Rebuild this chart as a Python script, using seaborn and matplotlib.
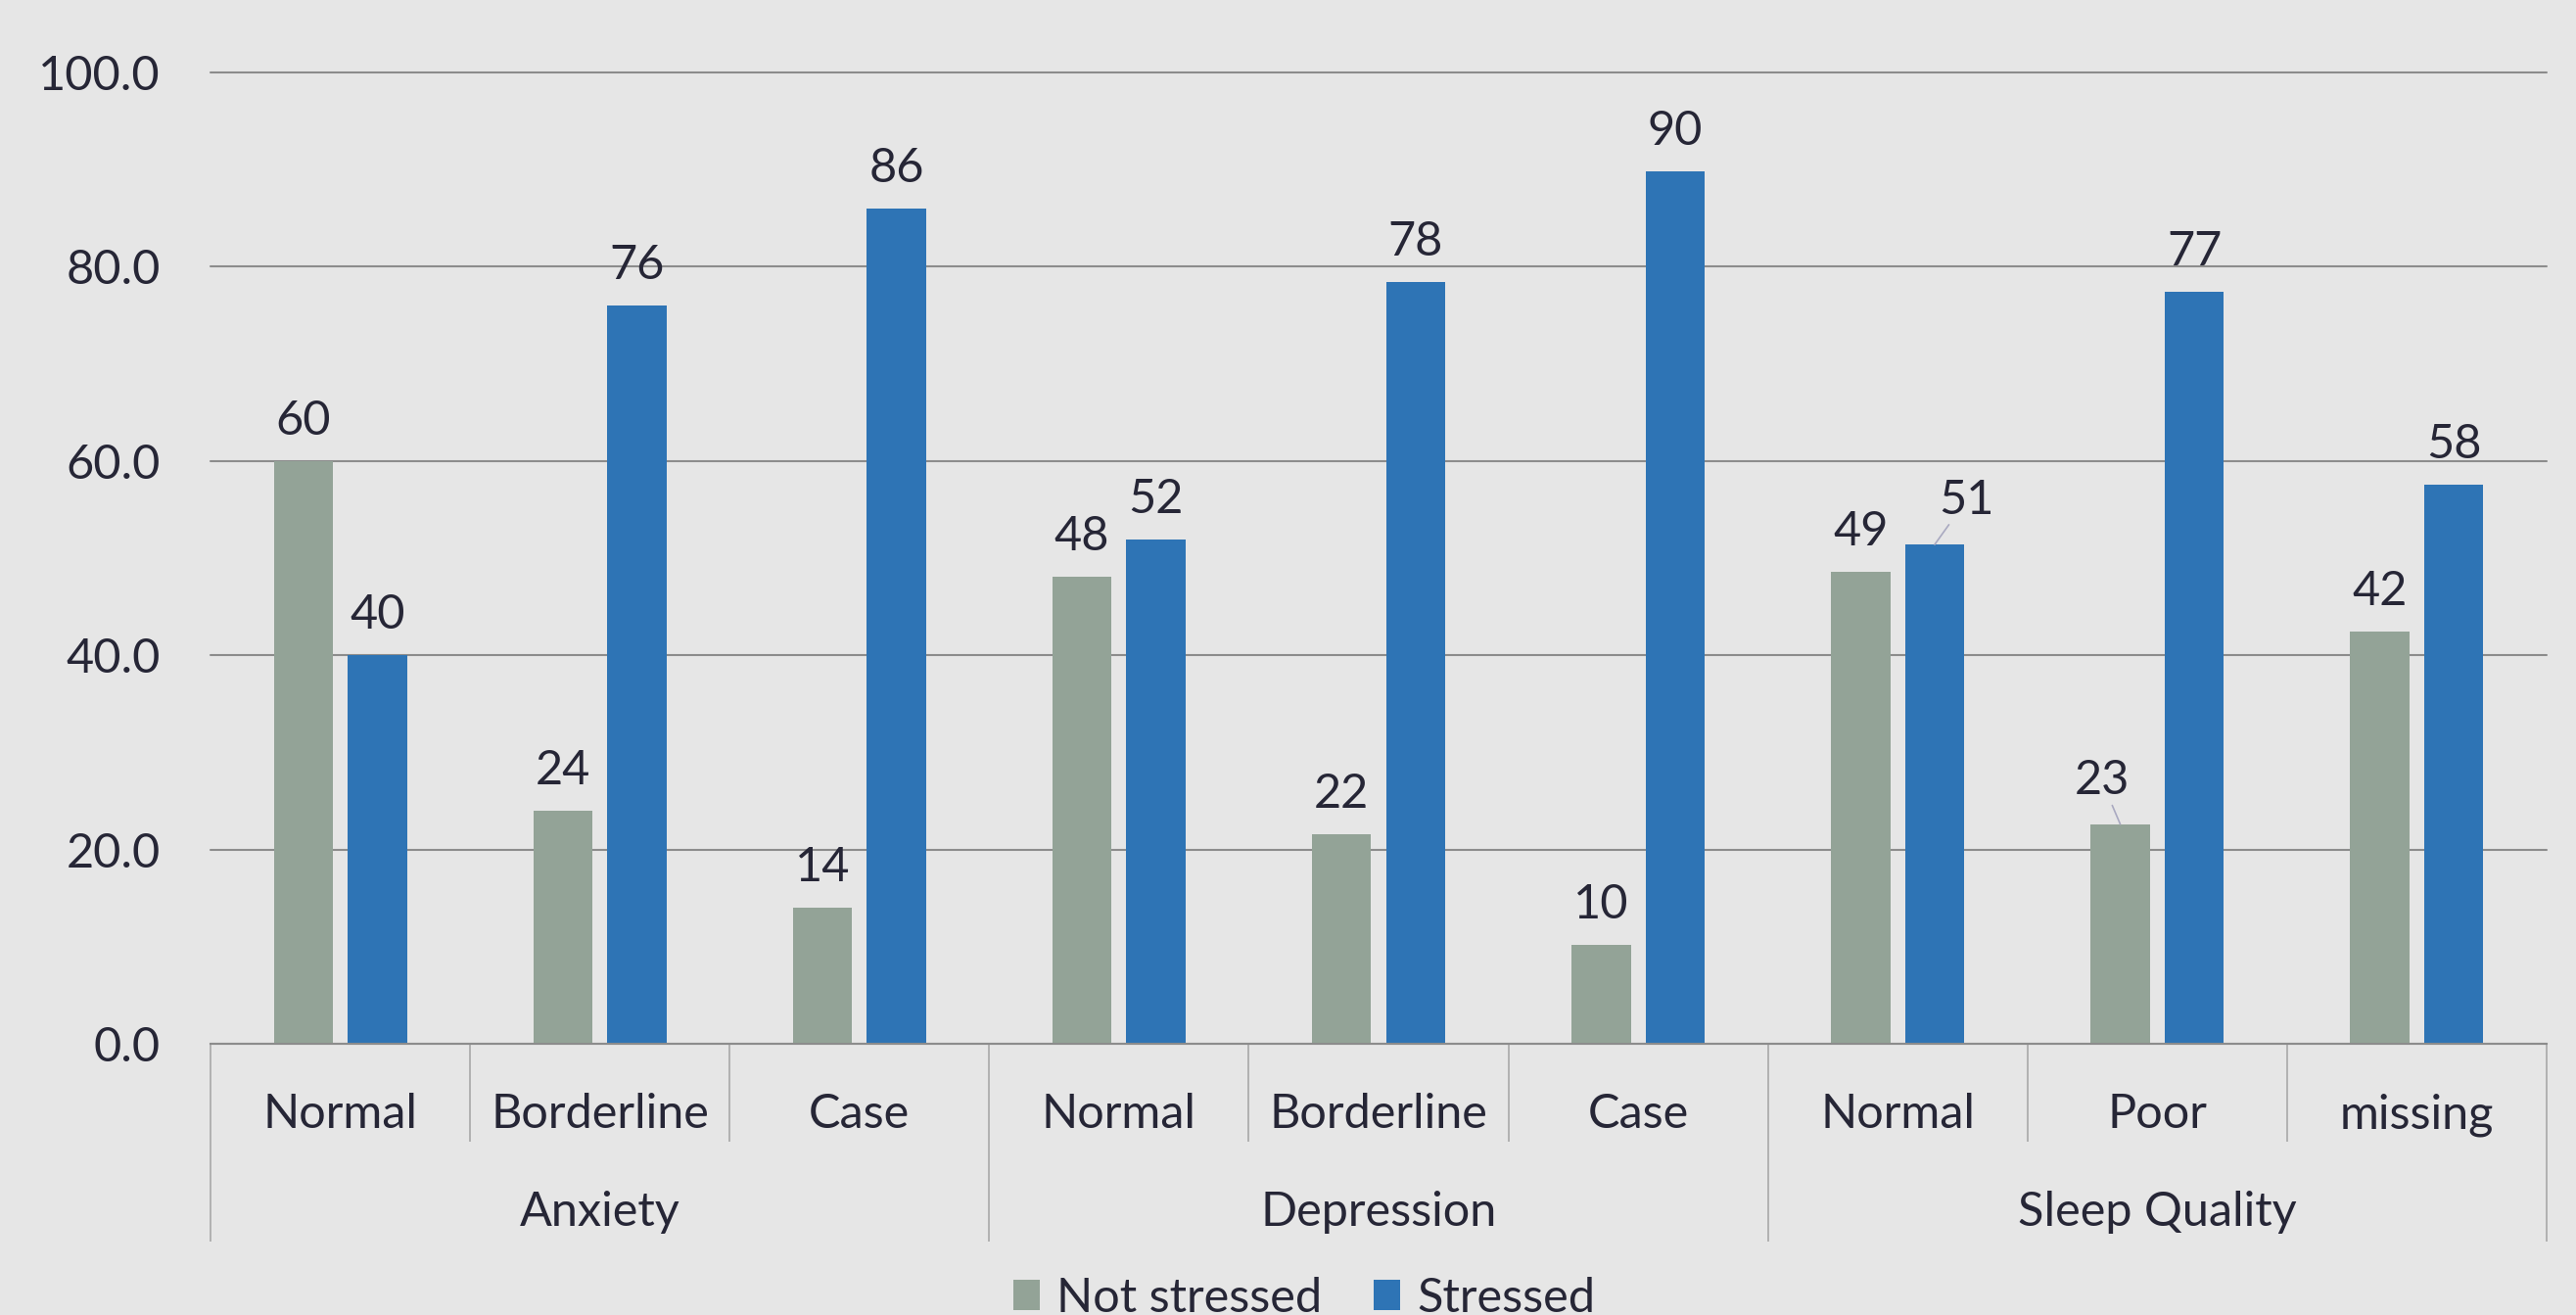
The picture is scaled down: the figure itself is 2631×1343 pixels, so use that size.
import numpy as np
import pandas as pd
import matplotlib
matplotlib.use("Agg")
import matplotlib.pyplot as plt
import seaborn as sns
from matplotlib.patches import Patch

# ---------------- data ----------------
groups = ["Anxiety", "Depression", "Sleep Quality"]
categories = ["Normal", "Borderline", "Case",
              "Normal", "Borderline", "Case",
              "Normal", "Poor", "missing"]
group_of_cat = [0, 0, 0, 1, 1, 1, 2, 2, 2]
series_names = ["Not stressed", "Stressed"]
not_stressed = [60.0, 24.0, 14.0, 48.1, 21.6, 10.2, 48.6, 22.6, 42.4]
stressed = [40.0, 76.0, 86.0, 51.9, 78.4, 89.8, 51.4, 77.4, 57.6]
y_ticks = [0, 20, 40, 60, 80, 100]

# ---------------- style ----------------
BG = "#e6e6e6"
TXT = "#262636"
GRID = "#8c8c8c"
SEP = "#a8a8a8"
colors = ["#93a397", "#2e74b5"]
FS = 35

sns.set_style("white")
plt.rcParams["font.family"] = ["Lato", "DejaVu Sans"]
plt.rcParams["text.color"] = TXT

W, H = 2631, 1343
fig = plt.figure(figsize=(W / 100, H / 100), dpi=100, facecolor=BG)
left, right, top, bottom = 215, 2601, 74, 1066
ax = fig.add_axes([left / W, 1 - bottom / H, (right - left) / W, (bottom - top) / H])
ax.set_facecolor(BG)

keys = [f"{groups[g]}|{c}|{i}" for i, (g, c) in enumerate(zip(group_of_cat, categories))]
df = pd.DataFrame({
    "key": keys * 2,
    "value": not_stressed + stressed,
    "Status": [series_names[0]] * len(keys) + [series_names[1]] * len(keys),
})

sns.barplot(data=df, x="key", y="value", hue="Status", order=keys,
            hue_order=series_names, palette=colors, width=0.57, gap=0.2,
            saturation=1, errorbar=None, legend=False, linewidth=0,
            edgecolor="none", ax=ax)

ax.set_xlim(-0.5, len(keys) - 0.5)
ax.set_ylim(0, 100)
ax.set_yticks(y_ticks)
ax.set_yticklabels([f"{v:.1f}" for v in y_ticks])
ax.set_xlabel("")
ax.set_ylabel("")
for s in ["left", "right", "top"]:
    ax.spines[s].set_visible(False)
ax.spines["bottom"].set_color(GRID)
ax.spines["bottom"].set_linewidth(1.5)
ax.yaxis.grid(True, color=GRID, linewidth=1.5)
ax.set_axisbelow(True)
for gl in ax.get_ygridlines():
    gl.set_clip_on(False)

ax.tick_params(axis="y", length=0, pad=37, labelsize=FS, labelcolor=TXT)
ax.set_xticks(range(len(keys)))
ax.set_xticklabels(categories)
ax.tick_params(axis="x", length=0, pad=62, labelsize=FS, labelcolor=TXT)
for lab in ax.get_xticklabels():
    lab.set_va("baseline")

# category / group separators below the axis
axh = bottom - top
inner_len = -100 / axh
group_len = -202 / axh
xt = ax.get_xaxis_transform()
for b in range(len(keys) + 1):
    x = b - 0.5
    is_group = b == 0 or b == len(keys) or group_of_cat[b] != group_of_cat[b - 1]
    ax.plot([x, x], [0, group_len if is_group else inner_len], transform=xt,
            color=SEP, lw=1.2, clip_on=False, solid_capstyle="butt")

# group labels
for gi, gname in enumerate(groups):
    idx = [i for i, g in enumerate(group_of_cat) if g == gi]
    cx = (idx[0] + idx[-1]) / 2
    ax.annotate(gname, xy=(cx, 0), xycoords=xt, xytext=(0, -(1252 - 1066) * 0.72),
                textcoords="offset points", ha="center", va="baseline",
                fontsize=FS, color=TXT, annotation_clip=False)

# data labels
special = {(1, 6): (23.5, 22.7), (0, 7): (-13.7, 22.0)}
for si, cont in enumerate(ax.containers):
    vals = [not_stressed, stressed][si]
    for i, bar in enumerate(cont):
        bx = bar.get_x() + bar.get_width() / 2
        by = bar.get_height()
        txt = f"{vals[i]:.0f}"
        if (si, i) in special:
            dx, dy = special[(si, i)]
            ax.annotate(txt, xy=(bx, by), xytext=(dx, dy), textcoords="offset points",
                        ha="center", va="baseline", fontsize=FS, color=TXT,
                        arrowprops=dict(arrowstyle="-", color="#a9a9c0", lw=1.2,
                                        shrinkA=0, shrinkB=0))
        else:
            ax.annotate(txt, xy=(bx, by), xytext=(0, 19.4), textcoords="offset points",
                        ha="center", va="baseline", fontsize=FS, color=TXT)

# legend
handles = [Patch(facecolor=c, edgecolor="none", label=n) for c, n in zip(colors, series_names)]
fig.legend(handles=handles, loc="center", bbox_to_anchor=(1332 / W, 1 - 1326 / H),
           ncol=2, frameon=False, fontsize=FS, handlelength=0.55, handleheight=0.6,
           handletextpad=0.35, columnspacing=1.1, borderpad=0, labelcolor=TXT)

fig.savefig("out.png", dpi=100, facecolor=BG)
